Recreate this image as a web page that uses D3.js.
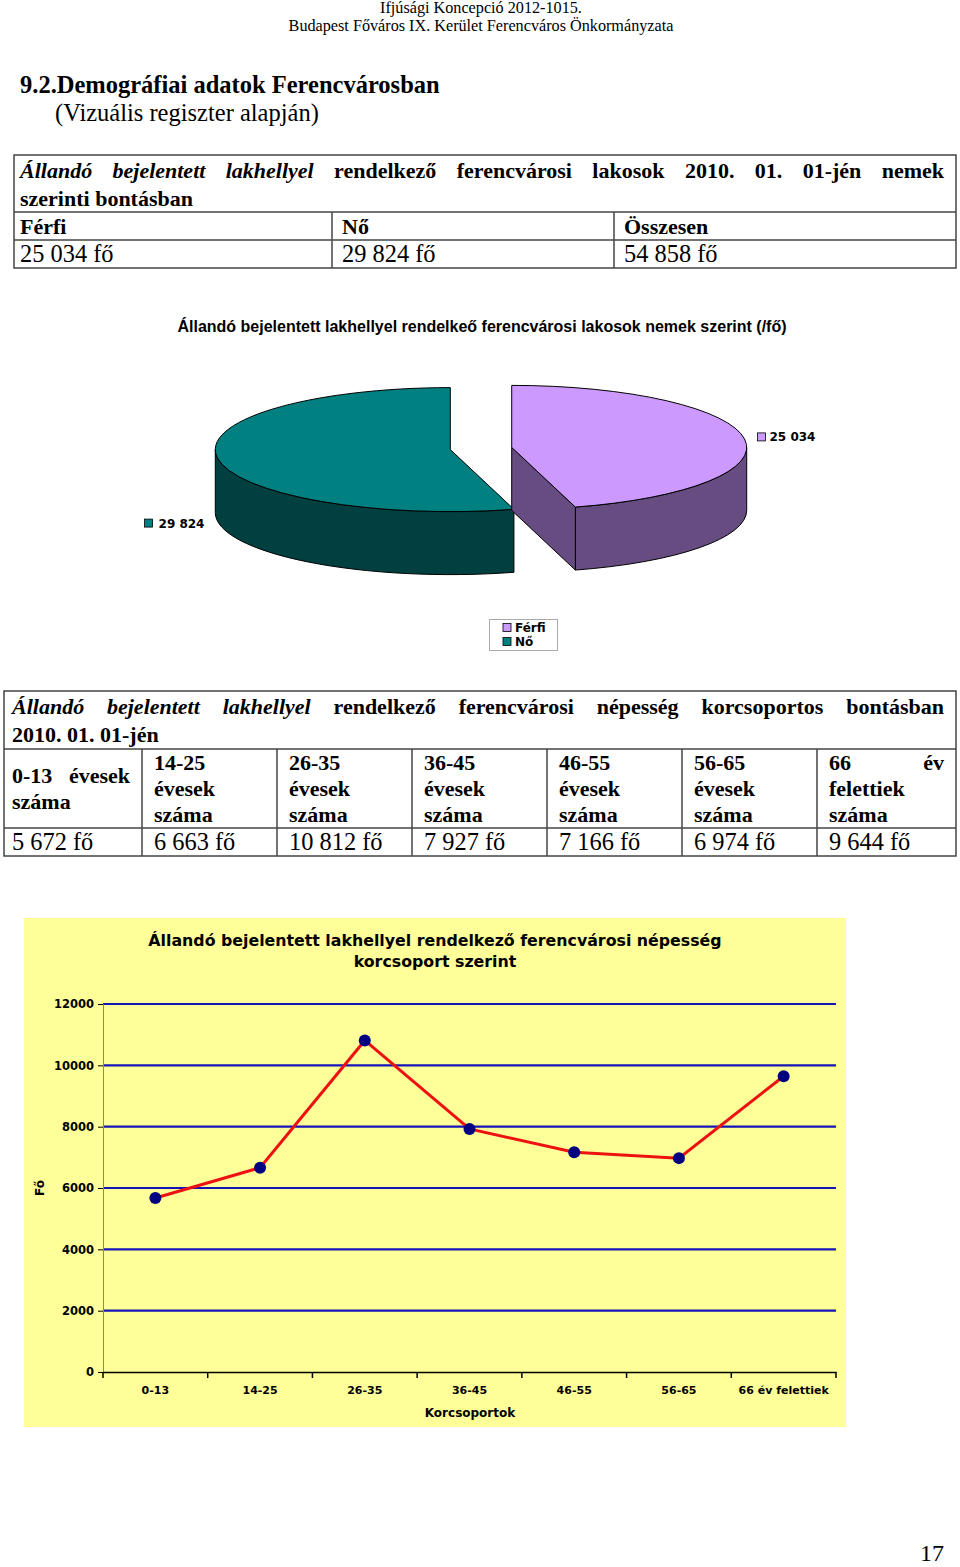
<!DOCTYPE html>
<html><head><meta charset="utf-8">
<script src="https://cdn.jsdelivr.net/npm/d3@7"></script>
<style>body{margin:0;background:#fff} svg{display:block}</style>
</head><body>
<script>
// ---------- data ----------
const headerLines = ["Ifjúsági Koncepció 2012-1015.", "Budapest Főváros IX. Kerület Ferencváros Önkormányzata"];
const sectionTitle = "9.2.Demográfiai adatok Ferencvárosban";
const sectionSub = "(Vizuális regiszter alapján)";
const table1TitleItalic = "Állandó bejelentett lakhellyel";
const table1TitleRest = "rendelkező ferencvárosi lakosok 2010. 01. 01-jén nemek";
const table1TitleLine2 = "szerinti bontásban";
const genderHeaders = ["Férfi", "Nő", "Összesen"];
const genderTotals = ["25 034 fő", "29 824 fő", "54 858 fő"];
const pieTitle = "Állandó bejelentett lakhellyel rendelkeő ferencvárosi lakosok nemek szerint (/fő)";
const pieCategories = ["Férfi", "Nő"];
const pieValues = [25034, 29824];
const pieValueLabels = ["25 034", "29 824"];
const pieColors = ["#CC99FF", "#008080"];
const pieSideColors = ["#664C80", "#004040"];
const table2TitleItalic = "Állandó bejelentett lakhellyel";
const table2TitleRest = "rendelkező ferencvárosi népesség korcsoportos bontásban";
const table2TitleLine2 = "2010. 01. 01-jén";
const ageHeaderCells = [["0-13 évesek", "száma"], ["14-25", "évesek", "száma"], ["26-35", "évesek", "száma"],
  ["36-45", "évesek", "száma"], ["46-55", "évesek", "száma"], ["56-65", "évesek", "száma"], ["66 év", "felettiek", "száma"]];
const ageValueLabels = ["5 672 fő", "6 663 fő", "10 812 fő", "7 927 fő", "7 166 fő", "6 974 fő", "9 644 fő"];
const ageGroups = ["0-13", "14-25", "26-35", "36-45", "46-55", "56-65", "66 év felettiek"];
const ageValues = [5672, 6663, 10812, 7927, 7166, 6974, 9644];
const yTicks = [0, 2000, 4000, 6000, 8000, 10000, 12000];
const lineTitle = ["Állandó bejelentett lakhellyel rendelkező ferencvárosi népesség", "korcsoport szerint"];
const xAxisTitle = "Korcsoportok";
const yAxisTitle = "Fő";
const pageNumber = "17";

// ---------- setup ----------
const W = 960, H = 1567;
const svg = d3.select("body").append("svg").attr("width", W).attr("height", H);
const SERIF = "'Liberation Serif','Times New Roman',serif";
const SANS = "'Liberation Sans',Arial,sans-serif";
const VERD = "'DejaVu Sans',Verdana,sans-serif";
const BOLD_FS = 22, REG_FS = 24.4;

function txt(g, x, y, s, o = {}) {
  return g.append("text").attr("x", x).attr("y", y).text(s)
    .attr("font-family", o.ff || SERIF).attr("font-size", o.fs || 22)
    .attr("font-weight", o.fw || "normal").attr("font-style", o.it ? "italic" : "normal")
    .attr("text-anchor", o.anchor || "start").attr("fill", o.fill || "#000");
}
// justify words between x0 and x1
function justify(g, runs, x0, x1, y, base) {
  const words = [];
  runs.forEach(r => r.text.split(" ").forEach(w => words.push({ w, o: Object.assign({}, base, r.o) })));
  const nodes = words.map(d => txt(g, 0, y, d.w, d.o));
  const widths = nodes.map(n => n.node().getComputedTextLength());
  const sum = d3.sum(widths);
  let gap = (x1 - x0 - sum) / (words.length - 1);
  let scale = 1;
  if (gap < 4) { gap = 4; scale = (x1 - x0 - gap * (words.length - 1)) / sum; }
  let x = x0;
  nodes.forEach((n, i) => {
    n.attr("x", x);
    if (scale !== 1) n.attr("textLength", widths[i] * scale).attr("lengthAdjust", "spacingAndGlyphs");
    x += widths[i] * scale + gap;
  });
}

// ---------- page header ----------
const hdr = svg.append("g");
headerLines.forEach((l, i) => txt(hdr, 481, 13 + i * 18, l, { fs: 16.2, anchor: "middle" }));
txt(svg, 20, 93, sectionTitle, { fs: 24.5, fw: "bold" });
txt(svg, 55, 121, sectionSub, { fs: 24.5 });

// ---------- table 1 ----------
const t1 = svg.append("g");
const lineStyle = { stroke: "#444", "stroke-width": 1.5, fill: "none" };
function rect(g, x, y, w, h) { const r = g.append("rect").attr("x", x).attr("y", y).attr("width", w).attr("height", h); Object.entries(lineStyle).forEach(([k, v]) => r.attr(k, v)); }
function line(g, x1, y1, x2, y2) { const l = g.append("line").attr("x1", x1).attr("y1", y1).attr("x2", x2).attr("y2", y2); Object.entries(lineStyle).forEach(([k, v]) => l.attr(k, v)); }
rect(t1, 14, 155, 942, 113);
line(t1, 14, 212, 956, 212);
line(t1, 14, 240, 956, 240);
const t1Cols = [14, 332, 614, 956];
t1Cols.slice(1, 3).forEach(x => line(t1, x, 212, x, 268));
justify(t1, [{ text: table1TitleItalic, o: { it: true } }, { text: table1TitleRest, o: {} }], 20, 944, 178, { fs: BOLD_FS, fw: "bold" });
txt(t1, 20, 206, table1TitleLine2, { fs: BOLD_FS, fw: "bold" });
genderHeaders.forEach((h, i) => txt(t1, t1Cols[i] + 6 + (i ? 4 : 0), 234, h, { fs: BOLD_FS, fw: "bold" }));
genderTotals.forEach((h, i) => txt(t1, t1Cols[i] + 6 + (i ? 4 : 0), 262, h, { fs: REG_FS }));

// ---------- 3D pie ----------
const pg = svg.append("g");
txt(pg, 482, 332, pieTitle, { ff: SANS, fs: 16, fw: "bold", anchor: "middle" });
const pcx = 481, pcy = 448.5, rx = 235, ry = 62, depth = 63, explode = 31;
const arcs = d3.pie().sort(null).startAngle(0).endAngle(2 * Math.PI)(pieValues);
function P(c, a, k = 1, dz = 0) { return [c[0] + rx * k * Math.sin(a), c[1] - ry * k * Math.cos(a) + dz]; }
function ellArc(to, sweep, large) { return `A${rx},${ry} 0 ${large} ${sweep} ${to[0]},${to[1]}`; }
const slices = arcs.map((a, i) => {
  const mid = (a.startAngle + a.endAngle) / 2;
  const c = [pcx + explode * Math.sin(mid), pcy - explode * Math.cos(mid) * ry / rx];
  return { a, i, mid, c };
});
// draw back-to-front: Nő (index 1) first, then Férfi
[1, 0].forEach(i => {
  const s = slices[i], a0 = s.a.startAngle, a1 = s.a.endAngle, c = s.c;
  const g = pg.append("g").attr("stroke", "#000").attr("stroke-width", 1).attr("stroke-linejoin", "round");
  const v0 = Math.max(a0, Math.PI / 2), v1 = Math.min(a1, 3 * Math.PI / 2);
  if (v1 > v0) {
    const p0 = P(c, v0), p1 = P(c, v1), q1 = P(c, v1, 1, depth), q0 = P(c, v0, 1, depth);
    g.append("path").attr("fill", pieSideColors[i])
      .attr("d", `M${p0}${ellArc(p1, 1, 0)}L${q1}${ellArc(q0, 0, 0)}Z`);
  }
  if (Math.sin(a1) > 0.001) {
    const e = P(c, a1);
    g.append("path").attr("fill", pieSideColors[i])
      .attr("d", `M${c}L${e}L${e[0]},${e[1] + depth}L${c[0]},${c[1] + depth}Z`);
  }
  if (Math.sin(a0) < -0.001) {
    const e = P(c, a0);
    g.append("path").attr("fill", pieSideColors[i])
      .attr("d", `M${c}L${e}L${e[0]},${e[1] + depth}L${c[0]},${c[1] + depth}Z`);
  }
  const s0 = P(c, a0), s1 = P(c, a1);
  g.append("path").attr("fill", pieColors[i])
    .attr("d", `M${c}L${s0}${ellArc(s1, 1, a1 - a0 > Math.PI ? 1 : 0)}Z`);
});
// data labels
slices.forEach(s => {
  const p = P(s.c, s.mid);
  const right = Math.sin(s.mid) > 0;
  const ly = right ? p[1] - 2 : p[1] + depth + 2;
  const g = pg.append("g");
  if (right) {
    g.append("rect").attr("x", p[0] + 13).attr("y", ly - 4).attr("width", 8).attr("height", 8)
      .attr("fill", pieColors[s.i]).attr("stroke", "#000").attr("stroke-width", 0.8);
    txt(g, p[0] + 25, ly + 4.5, pieValueLabels[s.i], { ff: VERD, fs: 12, fw: "bold" });
  } else {
    const t = txt(g, p[0] - 13, ly + 4.5, pieValueLabels[s.i], { ff: VERD, fs: 12, fw: "bold", anchor: "end" });
    const w = t.node().getComputedTextLength();
    g.append("rect").attr("x", p[0] - 13 - w - 14).attr("y", ly - 4).attr("width", 8).attr("height", 8)
      .attr("fill", pieColors[s.i]).attr("stroke", "#000").attr("stroke-width", 0.8);
  }
});
// legend
const lg = pg.append("g");
lg.append("rect").attr("x", 489.5).attr("y", 619.5).attr("width", 68).attr("height", 31).attr("fill", "#fff").attr("stroke", "#aaa");
pieCategories.forEach((c, i) => {
  lg.append("rect").attr("x", 503).attr("y", 623.5 + i * 14).attr("width", 8).attr("height", 8)
    .attr("fill", pieColors[i]).attr("stroke", "#000").attr("stroke-width", 0.8);
  txt(lg, 515, 632 + i * 14, c, { ff: VERD, fs: 12, fw: "bold" });
});

// ---------- table 2 ----------
const t2 = svg.append("g");
rect(t2, 4, 691, 952, 165);
line(t2, 4, 749, 956, 749);
line(t2, 4, 828, 956, 828);
const t2Cols = [4, 142, 277, 412, 547, 682, 817, 956];
t2Cols.slice(1, 7).forEach(x => line(t2, x, 749, x, 856));
justify(t2, [{ text: table2TitleItalic, o: { it: true } }, { text: table2TitleRest, o: {} }], 12, 944, 714, { fs: BOLD_FS, fw: "bold" });
txt(t2, 12, 742, table2TitleLine2, { fs: BOLD_FS, fw: "bold" });
ageHeaderCells.forEach((cell, i) => {
  const x0 = t2Cols[i] + (i ? 12 : 8), x1 = t2Cols[i + 1] - 12;
  const y0 = i === 0 ? 783 : 770;
  cell.forEach((l, j) => {
    const y = y0 + j * 26;
    if (j === 0 && l.includes(" ")) justify(t2, [{ text: l, o: {} }], x0, x1, y, { fs: BOLD_FS, fw: "bold" });
    else txt(t2, x0, y, l, { fs: BOLD_FS, fw: "bold" });
  });
});
ageValueLabels.forEach((v, i) => txt(t2, t2Cols[i] + (i ? 12 : 8), 850, v, { fs: REG_FS }));

// ---------- line chart ----------
const lc = svg.append("g");
lc.append("rect").attr("x", 24).attr("y", 918).attr("width", 822).attr("height", 509).attr("fill", "#FFFF99");
lineTitle.forEach((l, i) => txt(lc, 435, 946 + i * 21, l, { ff: VERD, fs: 15.8, fw: "bold", anchor: "middle" }));
const x = d3.scaleBand().domain(ageGroups).range([103, 836]);
const y = d3.scaleLinear().domain([0, 12000]).range([1372, 1004]);
lc.append("g").selectAll("line").data(yTicks.filter(d => d > 0)).join("line")
  .attr("x1", 103).attr("x2", 836).attr("y1", d => y(d)).attr("y2", d => y(d))
  .attr("stroke", "#1414B8").attr("stroke-width", 2.2);
const ya = lc.append("g").attr("transform", "translate(103,0)")
  .call(d3.axisLeft(y).tickValues(yTicks).tickSize(5).tickPadding(4).tickFormat(d3.format("d")));
ya.select(".domain").attr("stroke", "#888").attr("stroke-width", 1);
ya.selectAll(".tick line").attr("stroke", "#000");
ya.selectAll("text").attr("font-family", VERD).attr("font-size", 11.5).attr("font-weight", "bold").attr("fill", "#000");
const xa = lc.append("g").attr("transform", "translate(0,1372)")
  .call(d3.axisBottom(x).tickSize(0).tickPadding(14));
xa.select(".domain").attr("stroke", "#000").attr("stroke-width", 1.5);
xa.selectAll("text").attr("font-family", VERD).attr("font-size", 11).attr("font-weight", "bold").attr("fill", "#000");
lc.append("g").selectAll("line").data(ageGroups.map(d => x(d)).concat([x.range()[1]])).join("line")
  .attr("x1", d => d).attr("x2", d => d).attr("y1", 1372).attr("y2", 1378).attr("stroke", "#000").attr("stroke-width", 1.5);
txt(lc, 470, 1417, xAxisTitle, { ff: VERD, fs: 12, fw: "bold", anchor: "middle" });
txt(lc, 0, 0, yAxisTitle, { ff: VERD, fs: 12, fw: "bold", anchor: "middle" })
  .attr("transform", "translate(44,1188) rotate(-90)");
const pts = ageGroups.map((g, i) => [x(g) + x.bandwidth() / 2, y(ageValues[i])]);
lc.append("path").datum(pts).attr("d", d3.line()).attr("fill", "none").attr("stroke", "#EE1111").attr("stroke-width", 3);
lc.append("g").selectAll("circle").data(pts).join("circle")
  .attr("cx", d => d[0]).attr("cy", d => d[1]).attr("r", 6).attr("fill", "#000080");

// ---------- page number ----------
txt(svg, 944, 1561, pageNumber, { fs: 24, anchor: "end" });
</script>
</body></html>
